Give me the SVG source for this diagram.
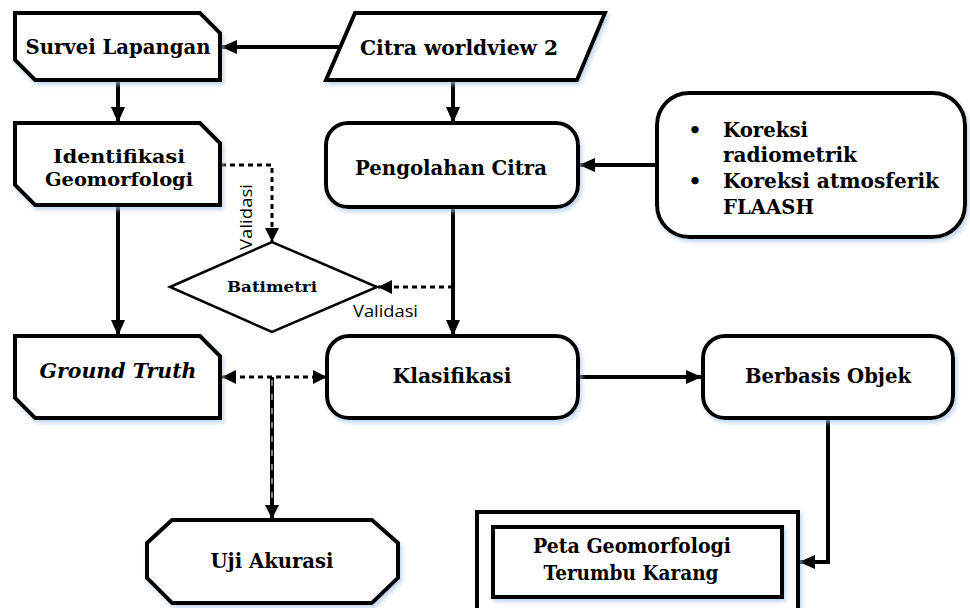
<svg xmlns="http://www.w3.org/2000/svg" width="970" height="608" viewBox="0 0 970 608">
<defs>
<filter id="sh" x="-10%" y="-10%" width="120%" height="130%">
<feDropShadow dx="2" dy="3" stdDeviation="2" flood-color="#a9c6e6" flood-opacity="0.7"/>
</filter>
<marker id="ah" markerUnits="userSpaceOnUse" markerWidth="16" markerHeight="14" refX="16" refY="7" orient="auto">
<path d="M0,0 L16,7 L0,14 z" fill="#000"/>
</marker>
<marker id="ahs" markerUnits="userSpaceOnUse" markerWidth="14" markerHeight="14" refX="14" refY="7" orient="auto-start-reverse">
<path d="M0,0 L14,7 L0,14 z" fill="#000"/>
</marker>
</defs>
<style>
.n{fill:#fff;stroke:#000;stroke-width:4;filter:url(#sh)}
.t{font-family:"DejaVu Serif","Liberation Serif",serif;font-weight:bold;font-size:21px;fill:#000;text-anchor:middle}
.s{text-anchor:start}
.l{font-family:"Open Sans","Liberation Sans",sans-serif;font-size:16px;fill:#000}
.c{fill:none;stroke:#000;stroke-width:4}
.d{fill:none;stroke:#000;stroke-width:3;stroke-dasharray:5 4}
</style>
<rect width="970" height="608" fill="#fff"/>
<g id="connectors">
<line class="c" x1="340" y1="47" x2="221" y2="47" marker-end="url(#ah)"/>
<line class="c" x1="118" y1="80" x2="118" y2="123" marker-end="url(#ah)"/>
<line class="c" x1="453" y1="80" x2="453" y2="123" marker-end="url(#ah)"/>
<line class="c" x1="657" y1="165" x2="579" y2="165" marker-end="url(#ah)"/>
<line class="c" x1="118" y1="207" x2="118" y2="336" marker-end="url(#ah)"/>
<line class="c" x1="453" y1="207" x2="453" y2="336" marker-end="url(#ah)"/>
<polyline class="d" points="221,165 272,165 272,242" marker-end="url(#ahs)"/>
<line class="d" x1="453" y1="287" x2="378" y2="287" marker-end="url(#ahs)"/>
<line class="d" x1="222" y1="377" x2="327" y2="377" marker-start="url(#ahs)" marker-end="url(#ahs)"/>
<line x1="272" y1="377" x2="272" y2="505" stroke="#000" stroke-width="4"/>
<line x1="272" y1="380" x2="272" y2="505" stroke="#fff" stroke-width="1" stroke-dasharray="6 8"/>
<line x1="272" y1="500" x2="272" y2="519" stroke="#000" stroke-width="4" marker-end="url(#ahs)"/>
<line class="c" x1="578" y1="377" x2="702" y2="377" marker-end="url(#ah)"/>
<polyline class="c" points="828,418 828,562 799,562" marker-end="url(#ah)"/>
<text class="l" transform="translate(252,250) rotate(-90)" textLength="66" lengthAdjust="spacingAndGlyphs">Validasi</text>
<text class="l" x="353" y="317" textLength="65" lengthAdjust="spacingAndGlyphs">Validasi</text>
</g>
<g id="survei">
<polygon class="n" points="15,13 200,13 220,33 220,80 35,80 15,60"/>
<text class="t" x="118" y="54" textLength="185" lengthAdjust="spacingAndGlyphs">Survei Lapangan</text>
</g>
<g id="citra">
<polygon class="n" points="355,13 605,13 577,80 326,80"/>
<text class="t" x="459" y="55" textLength="198" lengthAdjust="spacingAndGlyphs">Citra worldview 2</text>
</g>
<g id="identifikasi">
<polygon class="n" points="15,123 200,123 220,143 220,205 35,205 15,185"/>
<text class="t" x="119" y="163" style="font-size:19px" textLength="132" lengthAdjust="spacingAndGlyphs">Identifikasi</text>
<text class="t" x="119" y="186" style="font-size:19px" textLength="148" lengthAdjust="spacingAndGlyphs">Geomorfologi</text>
</g>
<g id="pengolahan">
<rect class="n" x="326" y="123" width="252" height="84" rx="22"/>
<text class="t" x="451" y="175" textLength="192" lengthAdjust="spacingAndGlyphs">Pengolahan Citra</text>
</g>
<g id="koreksi">
<rect class="n" x="657" y="93" width="308" height="144" rx="32"/>
<text class="t" x="695" y="137">•</text>
<text class="t" x="695" y="188">•</text>
<text class="t s" x="723" y="137" textLength="85" lengthAdjust="spacingAndGlyphs">Koreksi</text>
<text class="t s" x="723" y="162" textLength="134" lengthAdjust="spacingAndGlyphs">radiometrik</text>
<text class="t s" x="723" y="188" textLength="216" lengthAdjust="spacingAndGlyphs">Koreksi atmosferik</text>
<text class="t s" x="723" y="214" textLength="91" lengthAdjust="spacingAndGlyphs">FLAASH</text>
</g>
<g id="batimetri">
<polygon points="170,287 272,242 377,287 272,332" fill="#fff" stroke="#000" stroke-width="2.5"/>
<text class="t" x="272" y="292" style="font-size:15px" textLength="90" lengthAdjust="spacingAndGlyphs">Batimetri</text>
</g>
<g id="groundtruth">
<polygon class="n" points="15,336 200,336 220,356 220,418 35,418 15,398"/>
<text class="t" x="118" y="378" style="font-style:italic" textLength="157" lengthAdjust="spacingAndGlyphs">Ground Truth</text>
</g>
<g id="klasifikasi">
<rect class="n" x="327" y="336" width="251" height="82" rx="22"/>
<text class="t" x="452" y="383" textLength="119" lengthAdjust="spacingAndGlyphs">Klasifikasi</text>
</g>
<g id="berbasis">
<rect class="n" x="703" y="336" width="250" height="82" rx="22"/>
<text class="t" x="828" y="383" textLength="166" lengthAdjust="spacingAndGlyphs">Berbasis Objek</text>
</g>
<g id="uji">
<polygon class="n" points="172,520 372,520 398,543 398,578 372,603 172,603 147,578 147,543"/>
<text class="t" x="272" y="568" textLength="123" lengthAdjust="spacingAndGlyphs">Uji Akurasi</text>
</g>
<g id="peta">
<rect class="n" x="477" y="512" width="321" height="110"/>
<rect class="n" x="493" y="527" width="289" height="70"/>
<text class="t" x="632" y="553" textLength="198" lengthAdjust="spacingAndGlyphs">Peta Geomorfologi</text>
<text class="t" x="631" y="580" textLength="175" lengthAdjust="spacingAndGlyphs">Terumbu Karang</text>
</g>
</svg>
